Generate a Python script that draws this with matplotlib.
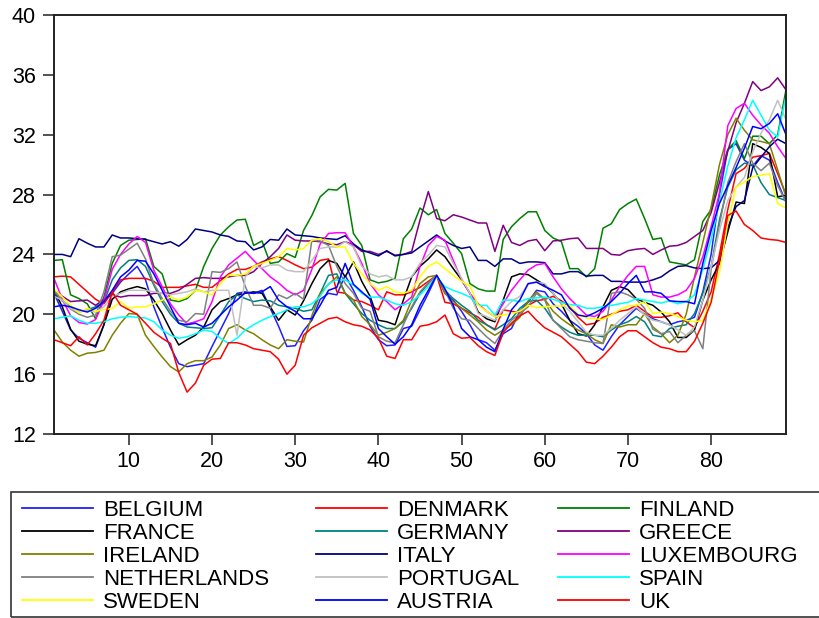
import numpy as np
import matplotlib
matplotlib.use("Agg")
import matplotlib.pyplot as plt
from matplotlib.lines import Line2D
from matplotlib.patches import Rectangle

# obserwacje 1..89
okres = np.arange(1, 90)

belgium = [21.4, 20.2, 18.95, 18.4, 18.1, 17.8, 19.3, 21.4, 22.15, 22.7,
           23.2, 22.3, 20.5, 19.1, 17.8, 16.7, 16.5, 16.6, 16.7, 17.85,
           18.95, 20.05, 21.4, 21.5, 21.4, 21.6, 20.4, 19.2, 17.85, 17.9,
           18.9, 19.6, 21.0, 21.4, 21.3, 22.6, 21.6, 20.5, 19.2, 18.3,
           17.9, 17.95, 19.05, 19.2, 20.3, 21.4, 22.6, 21.4, 20.95, 20.2,
           19.3, 18.3, 18.1, 17.6, 18.7, 19.05, 20.2, 20.8, 21.6, 21.5,
           20.7, 20.2, 19.6, 19.2, 18.7, 17.95, 17.6, 18.5, 19.3, 19.85,
           20.4, 20.0, 19.7, 19.5, 19.3, 19.5, 19.6, 19.8, 21.5, 24.0,
           28.0, 31.0, 31.4, 30.3, 29.9, 30.6, 30.3, 28.8, 27.5]
denmark = [22.5, 22.55, 22.5, 22.0, 21.5, 21.0, 20.7, 21.5, 22.3, 22.4,
           22.4, 22.4, 22.2, 21.8, 21.8, 21.8, 21.9, 22.0, 21.8, 21.8,
           22.25, 22.7, 23.0, 23.0, 23.2, 23.5, 23.7, 23.85, 23.6, 23.3,
           23.05, 23.15, 23.6, 23.7, 21.5, 21.4, 20.95, 20.85, 20.6, 20.3,
           21.5, 21.3, 21.3, 21.5, 21.8, 22.2, 22.6, 20.8, 20.7, 20.4,
           20.1, 19.8, 19.3, 19.0, 20.3, 20.2, 20.1, 20.6, 20.9, 21.0,
           21.2, 20.9, 20.5, 19.8, 19.3, 19.4, 19.8, 20.0, 20.2, 20.3,
           20.6, 20.2, 19.8, 19.8, 19.9, 20.1, 19.5, 19.1, 20.2, 21.5,
           24.0, 27.0, 29.4, 29.75, 30.5, 30.6, 30.75, 29.4, 28.0]
finland = [23.6, 23.65, 21.3, 21.05, 20.7, 19.7, 21.15, 23.4, 24.6, 24.95,
           25.0, 25.05, 23.2, 22.7, 20.95, 20.85, 21.05, 21.6, 23.2, 24.4,
           25.3, 25.85, 26.3, 26.35, 24.6, 24.9, 23.4, 23.5, 24.05, 23.8,
           25.6, 26.6, 27.85, 28.35, 28.3, 28.75, 25.4, 24.6, 22.3, 22.1,
           22.2, 22.4, 25.05, 25.7, 27.1, 26.65, 27.0, 25.4, 24.75, 24.05,
           22.05, 21.7, 21.55, 21.55, 25.0, 25.85, 26.4, 26.85, 26.85, 25.6,
           25.1, 24.85, 23.05, 23.05, 22.5, 23.05, 25.75, 26.05, 27.0, 27.4,
           27.7, 26.4, 25.0, 25.1, 23.5, 23.4, 23.3, 23.65, 26.2, 27.0,
           29.3, 31.0, 31.6, 30.4, 31.9, 31.9, 31.4, 32.0, 35.0]
france = [21.6, 20.5, 19.0, 18.2, 18.0, 17.9, 19.3, 21.0, 21.5, 21.7,
          21.85, 21.7, 20.95, 20.05, 18.95, 17.95, 18.3, 18.6, 19.15, 20.3,
          20.85, 21.05, 21.3, 21.4, 21.5, 21.4, 20.5, 19.6, 20.3, 19.95,
          20.9, 22.05, 23.05, 23.6, 23.4, 22.5, 23.5, 22.2, 21.2, 19.6,
          19.5, 19.3, 20.95, 22.5, 23.2, 23.7, 24.3, 23.85, 23.05, 22.3,
          21.4, 20.15, 19.7, 19.5, 20.95, 22.5, 22.7, 22.65, 22.3, 21.95,
          21.4, 20.7, 19.6, 18.7, 18.55, 19.3, 20.5, 21.6, 21.85, 21.65,
          21.05, 20.8, 20.6, 20.15, 19.5, 18.45, 18.45, 18.95, 20.95, 22.3,
          23.4, 25.5, 27.5, 27.4, 31.4, 31.15, 30.75, 27.85, 27.95]
germany = [21.5, 20.9, 20.5, 20.15, 20.3, 20.5, 20.8, 22.3, 23.1, 23.6,
           23.65, 23.2, 21.95, 20.85, 20.0, 19.4, 19.15, 19.1, 19.05, 19.1,
           19.95, 20.85, 21.3, 21.05, 20.85, 20.95, 20.9, 20.6, 20.5, 20.4,
           20.2, 20.3, 21.4, 22.6, 22.7, 21.4, 20.7, 20.05, 19.6, 19.3,
           19.05, 19.05, 19.5, 20.4, 21.4, 22.05, 22.6, 21.6, 21.05, 20.6,
           20.2, 19.6, 19.3, 18.95, 19.3, 19.7, 20.4, 20.85, 20.95, 20.4,
           19.6, 19.15, 18.8, 18.6, 18.6, 18.6, 18.5, 18.95, 19.3, 19.5,
           19.85, 19.5, 18.6, 18.5, 19.05, 19.2, 19.3, 20.05, 21.4, 23.2,
           26.3, 28.5, 29.65, 30.1, 30.0, 28.8, 28.0, 27.8, 27.6]
greece = [21.6, 21.2, 20.85, 20.9, 20.95, 20.6, 21.0, 21.3, 21.15, 21.25,
          21.25, 21.25, 21.4, 21.4, 21.4, 21.6, 22.0, 22.4, 22.45, 22.4,
          22.4, 22.5, 22.6, 22.6, 22.85, 23.4, 23.85, 24.4, 25.3, 24.95,
          24.9, 24.9, 24.85, 24.7, 24.65, 24.85, 24.65, 24.2, 24.2, 24.0,
          24.2, 23.95, 24.0, 24.2, 26.3, 28.2, 26.4, 26.25, 26.65, 26.5,
          26.3, 26.1, 26.1, 24.2, 25.95, 24.8, 24.6, 24.9, 25.0, 24.25,
          24.9, 24.95, 25.05, 25.1, 24.4, 24.4, 24.4, 24.0, 23.95, 24.25,
          24.35, 24.4, 24.0, 24.3, 24.55, 24.6, 24.8, 25.2, 25.6, 26.8,
          28.8, 30.9, 32.8, 34.1, 35.55, 34.95, 35.2, 35.8, 35.0]
ireland = [18.95, 18.15, 17.6, 17.2, 17.4, 17.45, 17.6, 18.6, 19.4, 20.05,
           20.0, 18.6, 17.85, 17.15, 16.5, 16.15, 16.7, 16.9, 16.9, 17.15,
           17.95, 19.05, 19.3, 18.95, 18.7, 18.3, 17.95, 17.7, 18.3, 18.2,
           18.15, 19.9, 21.4, 22.0, 22.5, 21.4, 20.95, 19.85, 19.3, 18.6,
           18.8, 19.05, 19.6, 20.95, 22.05, 22.5, 22.6, 21.4, 20.85, 20.4,
           19.95, 19.5, 18.95, 18.6, 18.95, 19.3, 19.8, 20.9, 21.5, 21.0,
           20.2, 19.7, 19.3, 18.95, 18.7, 18.3, 18.05, 19.3, 19.15, 19.3,
           19.3, 20.05, 19.15, 18.7, 18.1, 18.6, 20.0, 22.5, 24.8, 27.2,
           30.0, 32.0, 33.1, 32.3, 31.65, 31.55, 31.4, 29.65, 27.85]
italy = [24.0, 24.0, 23.85, 25.05, 24.75, 24.5, 24.5, 25.3, 25.1, 25.1,
         25.05, 25.0, 24.85, 24.7, 24.85, 24.55, 25.0, 25.7, 25.6, 25.5,
         25.3, 25.2, 24.9, 24.85, 24.3, 24.5, 25.0, 24.95, 25.7, 25.3,
         25.25, 25.2, 25.1, 25.05, 25.0, 25.25, 24.7, 24.3, 24.1, 23.9,
         24.25, 23.9, 24.0, 24.1, 24.5, 24.9, 25.3, 24.9, 24.6, 24.4,
         24.5, 23.6, 23.6, 23.2, 23.7, 23.7, 23.4, 23.5, 23.5, 23.45,
         22.7, 22.7, 22.85, 22.85, 22.55, 22.6, 22.6, 22.2, 22.2, 22.15,
         22.15, 22.15, 22.3, 22.5, 22.9, 23.2, 23.25, 23.1, 23.05, 23.1,
         23.6, 25.8, 27.2, 27.6, 29.8, 30.5, 31.2, 31.7, 31.4]
luxembourg = [22.4, 21.0, 19.9, 19.45, 19.35, 19.65, 20.9, 23.0, 24.0, 24.7,
              25.2, 24.8, 22.95, 21.85, 20.7, 19.95, 19.35, 19.5, 19.7, 20.85,
              22.5, 23.3, 23.75, 24.2, 23.6, 23.05, 22.5, 22.1, 21.6, 21.3,
              21.6, 23.0, 24.7, 25.4, 25.45, 25.45, 24.5, 23.4, 22.05, 21.3,
              20.85, 20.3, 20.7, 21.15, 23.2, 24.6, 25.2, 24.95, 23.6, 22.3,
              21.4, 20.7, 20.2, 19.85, 20.7, 21.6, 22.3, 22.95, 23.3, 23.4,
              22.5, 21.7, 21.05, 20.5, 19.95, 19.85, 20.2, 20.95, 21.85, 22.6,
              23.2, 23.2, 21.3, 21.15, 21.15, 21.3, 21.6, 22.4, 23.85, 25.85,
              28.1, 32.6, 33.75, 34.1, 33.3, 32.65, 32.1, 31.2, 30.4]
netherlands = [21.6, 20.9, 20.35, 20.0, 19.8, 19.95, 21.5, 23.85, 23.95, 24.35,
               24.75, 23.7, 22.05, 21.05, 20.2, 19.6, 19.5, 20.05, 20.0, 22.85,
               22.8, 23.05, 23.5, 21.85, 20.6, 20.6, 20.4, 21.3, 21.05, 21.4,
               21.0, 24.95, 24.9, 24.6, 23.2, 22.05, 21.4, 20.4, 20.2, 18.5,
               18.2, 18.1, 19.3, 20.5, 21.5, 22.1, 22.6, 21.6, 20.4, 19.7,
               19.6, 19.05, 18.5, 18.05, 18.95, 19.6, 20.05, 20.5, 21.4, 20.95,
               19.6, 19.05, 18.5, 18.3, 18.2, 18.1, 18.05, 21.4, 21.5, 21.3,
               21.0, 20.4, 19.0, 18.7, 18.85, 18.1, 18.6, 18.9, 17.7, 23.0,
               26.0, 28.8, 30.2, 31.4, 30.1, 29.6, 30.1, 28.6, 27.5]
portugal = [21.2, 20.95, 20.4, 20.15, 20.3, 20.15, 20.5, 21.2, 21.4, 21.6,
            21.6, 21.6, 21.5, 21.4, 21.3, 21.4, 21.5, 21.7, 21.5, 21.6,
            21.6, 21.6, 18.6, 22.5, 23.2, 23.1, 23.3, 23.3, 22.95, 22.85,
            22.85, 23.6, 24.4, 24.5, 24.5, 24.85, 24.5, 23.2, 22.7, 22.5,
            22.6, 22.3, 22.3, 22.5, 23.4, 23.95, 24.6, 24.5, 23.4, 22.4,
            21.4, 20.05, 19.85, 19.6, 20.3, 20.85, 21.2, 22.0, 22.15, 22.05,
            21.4, 20.7, 20.2, 19.5, 18.8, 18.6, 18.6, 19.05, 19.6, 20.05,
            20.5, 19.95, 19.6, 19.5, 19.3, 18.95, 18.6, 19.15, 20.95, 23.2,
            25.6, 27.6, 28.5, 29.15, 30.85, 32.1, 33.0, 34.3, 33.0]
spain = [19.7, 19.8, 19.9, 19.6, 19.4, 19.4, 19.5, 19.7, 19.8, 19.85,
         19.8, 19.75, 19.5, 18.95, 18.6, 18.4, 18.5, 18.7, 18.95, 18.85,
         18.4, 18.05, 18.4, 18.95, 19.3, 19.6, 19.85, 20.05, 20.3, 20.5,
         20.5, 20.7, 21.2, 22.05, 22.3, 22.3, 21.95, 21.4, 21.15, 21.15,
         20.95, 20.7, 20.6, 20.85, 21.3, 21.85, 22.5, 21.85, 21.6, 21.4,
         21.15, 20.6, 20.6, 19.95, 20.95, 20.95, 20.85, 21.05, 21.1, 21.15,
         21.0, 20.8, 20.65, 20.6, 20.4, 20.4, 20.5, 20.6, 20.7, 20.8,
         21.05, 20.95, 20.85, 20.75, 20.9, 20.7, 20.85, 21.3, 23.0, 25.0,
         27.5, 29.9, 31.8, 33.0, 34.3, 33.3, 32.3, 31.85, 34.6]
sweden = [21.7, 21.15, 20.6, 20.1, 20.4, 20.2, 20.3, 20.4, 20.85, 20.4,
          20.5, 20.5, 20.7, 20.95, 21.15, 20.95, 21.15, 21.6, 21.5, 21.3,
          22.05, 22.6, 22.6, 22.7, 23.2, 23.4, 23.6, 23.85, 24.4, 24.3,
          24.4, 24.95, 25.05, 24.85, 24.5, 24.5, 23.4, 22.7, 22.05, 21.6,
          21.85, 21.5, 21.4, 21.6, 22.5, 23.2, 23.5, 23.05, 22.6, 22.2,
          21.9, 20.6, 20.2, 19.85, 19.95, 20.05, 20.2, 20.6, 20.45, 20.5,
          20.55, 20.55, 20.6, 20.0, 19.75, 19.7, 19.65, 19.95, 20.3, 20.55,
          20.6, 20.85, 20.05, 20.15, 20.05, 19.85, 19.6, 19.5, 19.6, 21.0,
          22.8, 26.1, 28.5, 28.85, 29.2, 29.3, 29.4, 27.4, 27.1]
austria = [20.5, 20.6, 20.5, 20.3, 20.15, 20.4, 20.85, 21.6, 22.5, 22.95,
           23.6, 23.55, 22.7, 21.6, 20.5, 19.4, 19.3, 19.4, 19.15, 19.4,
           19.95, 20.5, 20.95, 21.45, 21.4, 21.5, 21.85, 20.95, 20.5, 20.2,
           19.7, 19.7, 20.6, 21.6, 21.8, 23.4, 22.0, 21.5, 21.0, 19.05,
           18.5, 18.0, 18.5, 19.3, 20.6, 21.6, 22.6, 21.7, 20.6, 19.05,
           18.5, 18.3, 17.8, 17.5, 19.0, 20.3, 20.95, 22.05, 22.15, 21.85,
           21.6, 21.3, 20.4, 19.95, 19.85, 20.1, 20.4, 20.85, 21.4, 22.05,
           22.6, 21.5, 21.5, 21.4, 20.9, 20.85, 20.85, 20.7, 23.4, 25.6,
           27.4, 28.6, 29.8, 31.1, 32.55, 32.4, 32.75, 33.4, 32.0]
uk = [18.3, 18.1, 17.9, 18.5, 17.95, 18.7, 19.6, 21.5, 20.6, 20.3,
      20.0, 19.4, 18.8, 18.4, 18.05, 16.1, 14.8, 15.4, 16.6, 17.0,
      17.05, 18.1, 18.1, 17.95, 17.7, 17.6, 17.5, 17.0, 16.0, 16.6,
      18.6, 19.1, 19.4, 19.7, 19.8, 19.5, 19.3, 19.2, 18.95, 18.4,
      17.2, 17.05, 18.3, 18.3, 19.2, 19.3, 19.5, 19.95, 18.7, 18.4,
      18.45, 17.9, 17.5, 17.25, 18.8, 19.4, 19.9, 20.2, 19.6, 19.1,
      18.8, 18.5, 18.0, 17.5, 16.8, 16.7, 17.2, 17.8, 18.5, 18.9,
      18.9, 18.5, 18.1, 17.8, 17.7, 17.5, 17.5, 18.2, 19.4, 20.8,
      23.6, 26.6, 26.9, 26.0, 25.6, 25.1, 25.0, 24.95, 24.8]

nazwy = ["BELGIUM", "DENMARK", "FINLAND", "FRANCE", "GERMANY", "GREECE",
         "IRELAND", "ITALY", "LUXEMBOURG", "NETHERLANDS", "PORTUGAL", "SPAIN",
         "SWEDEN", "AUSTRIA", "UK"]
serie = [belgium, denmark, finland, france, germany, greece, ireland, italy,
         luxembourg, netherlands, portugal, spain, sweden, austria, uk]
kolory = ["#1f1fff", "#ff0000", "#008000", "#000000", "#008080", "#800080",
          "#808000", "#000080", "#ff00ff", "#808080", "#c0c0c0", "#00ffff",
          "#ffff00", "#0000ff", "#ff0000"]

y_ticks = [12, 16, 20, 24, 28, 32, 36, 40]
x_ticks = [10, 20, 30, 40, 50, 60, 70, 80]

W, H = 819, 618
plt.rcParams['font.family'] = ['Liberation Sans', 'DejaVu Sans']
fig = plt.figure(figsize=(W / 100, H / 100), dpi=100)
ax = fig.add_axes([54 / W, 1 - 434 / H, (786 - 54) / W, (434 - 15) / H])

linie = {}
for nazwa, dane, kolor in zip(nazwy, serie, kolory):
    linie[nazwa], = ax.plot(okres, dane, color=kolor, lw=1.1)

ax.set_xlim(1, 89)
ax.set_ylim(12, 40)
ax.set_xticks(x_ticks)
ax.set_yticks(y_ticks)
ax.tick_params(axis='both', direction='out', length=8, width=1.1, labelsize=15.5, color='#222222')
ax.tick_params(axis='y', pad=5)
ax.tick_params(axis='x', pad=4)
for s in ax.spines.values():
    s.set_linewidth(1.4)
    s.set_color('#222222')

# legenda: ramka + trzy kolumny
fig.patches.append(Rectangle((11 / W, 1 - 617 / H), (840 - 11) / W, (617 - 492) / H,
                             transform=fig.transFigure, fill=False, lw=1.2,
                             edgecolor='#333333', clip_on=False))
kolumny = [["BELGIUM", "FRANCE", "IRELAND", "NETHERLANDS", "SWEDEN"],
           ["DENMARK", "GERMANY", "ITALY", "PORTUGAL", "AUSTRIA"],
           ["FINLAND", "GREECE", "LUXEMBOURG", "SPAIN", "UK"]]
x_kol = [22, 316, 558]
for kol, x0 in zip(kolumny, x_kol):
    uchwyty = [Line2D([], [], color=linie[n].get_color(), lw=1.3) for n in kol]
    leg = fig.legend(uchwyty, kol, loc='upper left', bbox_to_anchor=(x0 / W, 1 - 500 / H),
                     frameon=False, fontsize=16, handlelength=3.2, handletextpad=0.45,
                     labelspacing=0.09, borderpad=0, borderaxespad=0)

fig.savefig("out.png", dpi=100)
